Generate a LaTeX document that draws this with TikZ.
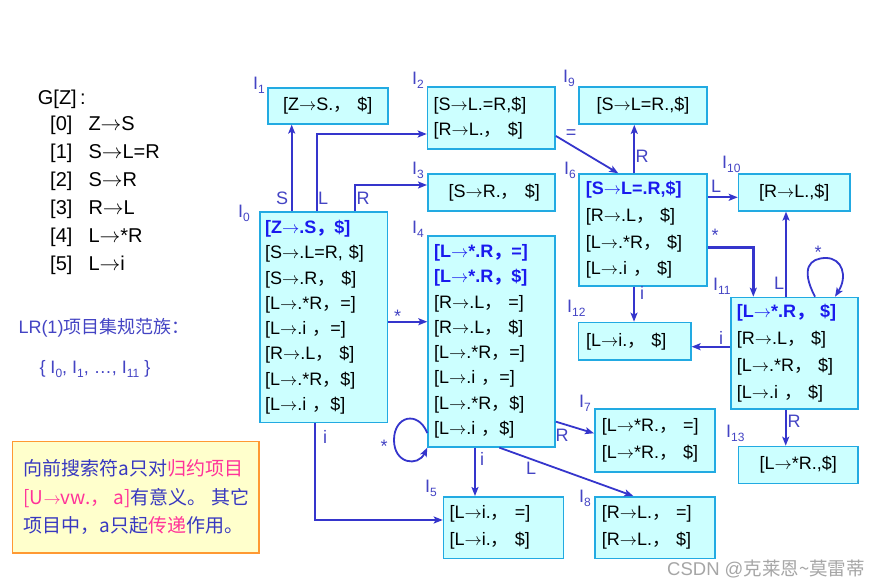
\documentclass[tikz,border=0pt]{standalone}
\usepackage{fontspec}
\setmainfont{Liberation Sans}
\newfontfamily\cjk{Noto Sans CJK SC}
\usetikzlibrary{arrows.meta}
\definecolor{edgec}{HTML}{3535CC}
\definecolor{labc}{HTML}{4444C4}
\definecolor{boxb}{HTML}{22AAE2}
\definecolor{boxf}{HTML}{CCFFFF}
\definecolor{boldc}{HTML}{1A1AEE}
\definecolor{notef}{HTML}{FFFFCC}
\definecolor{noteb}{HTML}{FF9933}
\definecolor{pinkc}{HTML}{FF3399}
\definecolor{notec}{HTML}{3838C0}
\definecolor{wmc}{HTML}{A6A6A6}
\newcommand\fc{{\cjk ，}}
\newcommand\ar{\ensuremath{\rightarrow}}
\newcommand\II[1]{I\raisebox{-4pt}{\fontsize{12}{12}\selectfont #1}}
\newcommand\kb[1]{{\bfseries\color{boldc}#1}}
\newcommand\nl{\\{}}
\tikzset{
  sbox/.style={draw=boxb, fill=boxf, line width=1.6pt, anchor=north west,
    inner xsep=6pt, inner ysep=0pt, align=left, text=black},
  cbox/.style={sbox, align=center},
  edge/.style={draw=edgec, line width=1.8pt, -{Stealth[length=9pt,width=7pt,inset=2pt]}},
  edgethick/.style={edge, line width=2.8pt},
  elab/.style={text=labc, font=\fontsize{18}{18}\selectfont, inner sep=0pt},
  ilab/.style={text=labc, font=\fontsize{18}{18}\selectfont, inner sep=0pt, anchor=base west},
  gram/.style={text=black, font=\fontsize{20}{20}\selectfont, inner sep=0pt, anchor=base west},
}
\begin{document}
\begin{tikzpicture}[x=1pt,y=-1pt]
\useasboundingbox (0,0) rectangle (885,588);
\fill[white] (0,0) rectangle (885,588);

% grammar
\node[gram] (g) at (37.7,105) {G[Z]\,:};
\node[gram] (g0) at (50,131) {\makebox[38.3pt][l]{[0]}Z\ar S};
\node[gram] (g1) at (50,158.8) {\makebox[38.3pt][l]{[1]}S\ar L=R};
\node[gram] (g2) at (50,186.6) {\makebox[38.3pt][l]{[2]}S\ar R};
\node[gram] (g3) at (50,214.4) {\makebox[38.3pt][l]{[3]}R\ar L};
\node[gram] (g4) at (50,242.2) {\makebox[38.3pt][l]{[4]}L\ar *R};
\node[gram] (g5) at (50,270) {\makebox[38.3pt][l]{[5]}L\ar i};
\node[ilab] (lrt) at (18.3,333.5) {LR(1){\cjk 项目集规范族：}};
\node[ilab] (fam) at (39.3,373.5) {\{ \II{0}, \II{1}, …, \II{11} \}};

% boxes
\node[sbox, minimum width=127.4pt, minimum height=210.7pt, text width=117.4pt, inner xsep=5pt,
  font=\fontsize{18}{25.3}\selectfont] (I0) at (259.3,211) {%
\kb{[Z\ar.S\fc\$]}\nl
[S\ar.L=R, \$]\nl
[S\ar.R\fc\ \$]\nl
[L\ar.*R\fc=]\nl
[L\ar.i \fc=]\nl
[R\ar.L\fc\ \$]\nl
[L\ar.*R\fc\$]\nl
[L\ar.i \fc\$]};
\node[cbox, minimum width=120pt, minimum height=36pt, text width=108pt,
  font=\fontsize{18}{25}\selectfont] (I1) at (267,87) {[Z\ar S.\fc\ \$]};
\node[sbox, minimum width=127.6pt, minimum height=62pt, text width=115.6pt,
  font=\fontsize{18}{25}\selectfont] (I2) at (426.7,86) {[S\ar L.=R,\$]\nl [R\ar L.\fc\ \$]};
\node[cbox, minimum width=127pt, minimum height=36.7pt, text width=115pt,
  font=\fontsize{18}{25}\selectfont] (I3) at (427,173.3) {\hspace*{6pt}[S\ar R.\fc\ \$]};
\node[sbox, minimum width=127pt, minimum height=211pt, text width=115pt,
  font=\fontsize{18}{25.3}\selectfont] (I4) at (427.3,235) {%
\kb{[L\ar*.R\fc=]}\nl
\kb{[L\ar*.R\fc\$]}\nl
[R\ar.L\fc\ =]\nl
[R\ar.L\fc\ \$]\nl
[L\ar.*R\fc=]\nl
[L\ar.i \fc=]\nl
[L\ar.*R\fc\$]\nl
[L\ar.i \fc\$]};
\node[sbox, minimum width=120pt, minimum height=61.7pt, text width=108pt,
  font=\fontsize{18}{27}\selectfont] (I5) at (442.7,496) {[L\ar i.\fc\ =]\nl [L\ar i.\fc\ \$]};
\node[sbox, minimum width=128pt, minimum height=111.7pt, text width=114pt, inner xsep=7pt,
  font=\fontsize{18}{26.7}\selectfont] (I6) at (578,173.3) {%
\kb{[S\ar L=.R,\$]}\nl
[R\ar.L\fc\ \$]\nl
[L\ar.*R\fc\ \$]\nl
[L\ar.i \fc\ \$]};
\node[sbox, minimum width=120.3pt, minimum height=62.7pt, text width=106.3pt, inner xsep=7pt,
  font=\fontsize{18}{27.5}\selectfont] (I7) at (594,408.3) {[L\ar*R.\fc\ =]\nl [L\ar*R.\fc\ \$]};
\node[sbox, minimum width=120pt, minimum height=61.7pt, text width=106pt, inner xsep=7pt,
  font=\fontsize{18}{27}\selectfont] (I8) at (594,496) {[R\ar L.\fc\ =]\nl [R\ar L.\fc\ \$]};
\node[cbox, minimum width=127.7pt, minimum height=37.3pt, text width=115.7pt,
  font=\fontsize{18}{25}\selectfont] (I9) at (578.3,86) {[S\ar L=R.,\$]};
\node[cbox, minimum width=111.6pt, minimum height=36.7pt, text width=99.6pt,
  font=\fontsize{18}{25}\selectfont] (I10) at (737.7,173.3) {[R\ar L.,\$]};
\node[sbox, minimum width=127.3pt, minimum height=111.6pt, text width=115.3pt,
  font=\fontsize{18}{27}\selectfont] (I11) at (730,296.7) {%
\kb{[L\ar*.R\fc\ \$]}\nl
[R\ar.L\fc\ \$]\nl
[L\ar.*R\fc\ \$]\nl
[L\ar.i \fc\ \$]};
\node[sbox, minimum width=112.3pt, minimum height=37.6pt, text width=97.3pt, inner xsep=7.5pt,
  font=\fontsize{18}{25}\selectfont] (I12) at (577.7,321.7) {[L\ar i.\fc\ \$]};
\node[cbox, minimum width=119.6pt, minimum height=37pt, text width=107.6pt,
  font=\fontsize{18}{25}\selectfont] (I13) at (737.7,445.7) {[L\ar*R.,\$]};

% state labels
\node[ilab] (l0) at (238,217) {\II{0}};
\node[ilab] (l1) at (253,90) {\II{1}};
\node[ilab] (l2) at (412,85) {\II{2}};
\node[ilab] (l3) at (412,175) {\II{3}};
\node[ilab] (l4) at (412,233) {\II{4}};
\node[ilab] (l5) at (425,492) {\II{5}};
\node[ilab] (l6) at (564,175) {\II{6}};
\node[ilab] (l7) at (579,407) {\II{7}};
\node[ilab] (l8) at (579,502) {\II{8}};
\node[ilab] (l9) at (563,83) {\II{9}};
\node[ilab] (l10) at (722,168) {\II{10}};
\node[ilab] (l11) at (713,290) {\II{11}};
\node[ilab] (l12) at (567,312) {\II{12}};
\node[ilab] (l13) at (726,437) {\II{13}};

% connectors
\draw[edge] (291.7,0 |- I0.north) -- (291.7,0 |- I1.south);
\draw[edge] (317.3,0 |- I0.north) |- (I2.west |- 0,134);
\draw[edge] (355,0 |- I0.north) |- (I3.west |- 0,185);
\draw[edge] (I0.east |- 0,321.7) -- (I4.west |- 0,321.7);
\draw[edgethick] (315,0 |- I0.south) |- (I5.west |- 0,520);
\draw[edge] (I4.west |- 0,433) .. controls (418,410) and (394,416) .. (394,440)
  .. controls (394,464) and (418,467) .. (I4.south west);
\draw[edge] (475,0 |- I4.south) -- (475,0 |- I5.north);
\draw[edge] (I4.east |- 0,421.7) -- (I7.west |- 0,433.3);
\draw[edge] (499.3,0 |- I4.south) -- (633.3,0 |- I8.north);
\draw[edge] (I2.east |- 0,136) -- (618.3,0 |- I6.north);
\draw[edge] (634.3,0 |- I6.north) -- (634.3,0 |- I9.south);
\draw[edge] (I6.east |- 0,197.3) -- (I10.west |- 0,197.3);
\draw[edgethick] (I6.east |- 0,247.3) -| (753.3,0 |- I11.north);
\draw[edge] (786,0 |- I11.north) -- (786,0 |- I10.south);
\draw[edge] (815,0 |- I11.north) .. controls (800,268) and (810,258) .. (826,258)
  .. controls (842,258) and (848,276) .. (835,0 |- I11.north);
\draw[edge] (634,0 |- I6.south) -- (634,0 |- I12.north);
\draw[edge] (I11.west |- 0,346.7) -- (I12.east |- 0,346.7);
\draw[edge] (785.7,0 |- I11.south) -- (785.7,0 |- I13.north);

% edge labels
\node[elab] (eS) at (282,198) {S};
\node[elab] (eL) at (323,198) {L};
\node[elab] (eR) at (363,198) {R};
\node[elab] (e04) at (397.5,316) {*};
\node[elab] (e05) at (325,437) {i};
\node[elab] (e44) at (384,446) {*};
\node[elab] (e45) at (482,459) {i};
\node[elab] (e47) at (562,435) {R};
\node[elab] (e48) at (531,468) {L};
\node[elab] (e26) at (571,134) {=};
\node[elab] (e69) at (642,156) {R};
\node[elab] (e610) at (716,186) {L};
\node[elab] (e611) at (715,235) {*};
\node[elab] (e1110) at (779,283) {L};
\node[elab] (e1111) at (818,252) {*};
\node[elab] (e612) at (642,293) {i};
\node[elab] (e1112) at (721,338) {i};
\node[elab] (e1113) at (794,421) {R};

% note
\node[draw=noteb, fill=notef, line width=1.6pt, anchor=north west,
  minimum width=246.6pt, minimum height=111.6pt, inner sep=0pt] (note) at (11.7,440.7) {};
\node[anchor=base west, inner sep=0pt, text=notec, font=\cjk\fontsize{19}{19}\selectfont] (n1)
  at (23.3,475.5) {向前搜索符a只对{\color{pinkc}归约项目}};
\node[anchor=base west, inner sep=0pt, text=notec, font=\cjk\fontsize{19}{19}\selectfont] (n2)
  at (23.3,504.5) {{\color{pinkc}[U\ar vw.， a]}有意义。 其它};
\node[anchor=base west, inner sep=0pt, text=notec, font=\cjk\fontsize{19}{19}\selectfont] (n3)
  at (23.3,532.5) {项目中，a只起{\color{pinkc}传递}作用。};

% watermark
\node[anchor=base west, inner sep=0pt, text=wmc, font=\fontsize{18.5}{18.5}\selectfont] (wm)
  at (667,575) {CSDN @{\cjk 克莱恩\textasciitilde 莫雷蒂}};
\end{tikzpicture}
\end{document}
